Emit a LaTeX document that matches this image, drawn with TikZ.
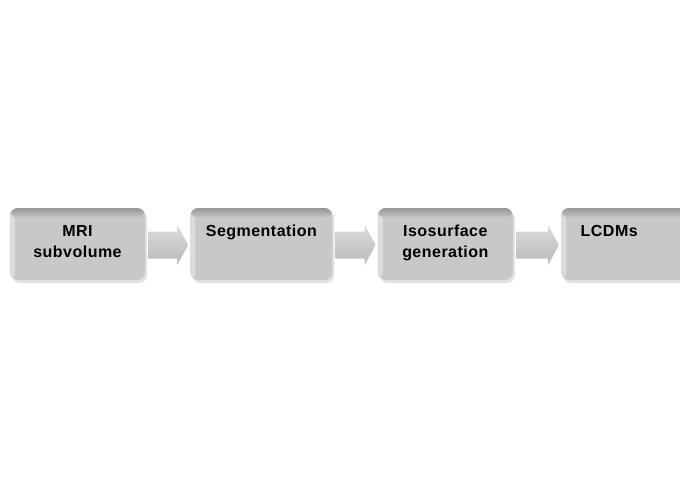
\documentclass[tikz,border=0pt]{standalone}
\usepackage{fontspec}
\setmainfont{Liberation Sans}
\usepackage{xcolor}
\usetikzlibrary{positioning, shadows, calc}

\definecolor{boxface}{RGB}{200,200,200}
\definecolor{boxtop}{RGB}{150,150,150}
\definecolor{boxleft}{RGB}{220,220,220}
\definecolor{boxshadow}{RGB}{226,226,226}

\tikzset{
  stage/.style={rectangle, rounded corners=8pt, fill=boxface, minimum height=72pt, inner sep=0pt,
    drop shadow={shadow xshift=2pt, shadow yshift=-3pt, fill=boxshadow, opacity=1},
    path picture={
      \shade[left color=boxleft, right color=boxface] (path picture bounding box.north west) rectangle ([xshift=5pt]path picture bounding box.south west);
      \shade[top color=boxtop, bottom color=boxface] (path picture bounding box.north west) rectangle ([yshift=-10pt]path picture bounding box.north east);
    }},
  stagetext/.style={anchor=north, yshift=-17pt, inner sep=0pt, align=center,
    font=\fontsize{16}{21}\selectfont\bfseries\addfontfeatures{LetterSpace=3}},
  blockarrow/.style={top color=gray!28, bottom color=gray!55}
}

\begin{document}
\begin{tikzpicture}[x=1pt, y=1pt]
\useasboundingbox (0,0) rectangle (680,-487);
\fill[white] (0,0) rectangle (680,-487);

% processing stages
\node[stage, minimum width=135pt, label={[stagetext]north:MRI\\subvolume}] (mri) at (77.5,-244) {};
\node[stage, minimum width=142pt, right=45pt of mri, label={[stagetext]north:Segmentation}] (seg) {};
\node[stage, minimum width=135pt, right=45pt of seg, label={[stagetext]north:Isosurface\\generation}] (iso) {};
\node[stage, minimum width=142pt, right=48pt of iso, label={[stagetext, xshift=-23pt]north:LCDMs}] (lcdm) {};

% block arrows between stages
\foreach \a/\b in {mri/seg, seg/iso, iso/lcdm}
  \shade[blockarrow] ($(\a.east)+(3pt,12.5pt)$) -- ($(\b.west)+(-13pt,12.5pt)$) -- ($(\b.west)+(-13pt,19pt)$)
    -- ($(\b.west)+(-2pt,-1pt)$) -- ($(\b.west)+(-13pt,-21pt)$) -- ($(\b.west)+(-13pt,-14.5pt)$)
    -- ($(\a.east)+(3pt,-14.5pt)$) -- cycle;
\end{tikzpicture}
\end{document}
